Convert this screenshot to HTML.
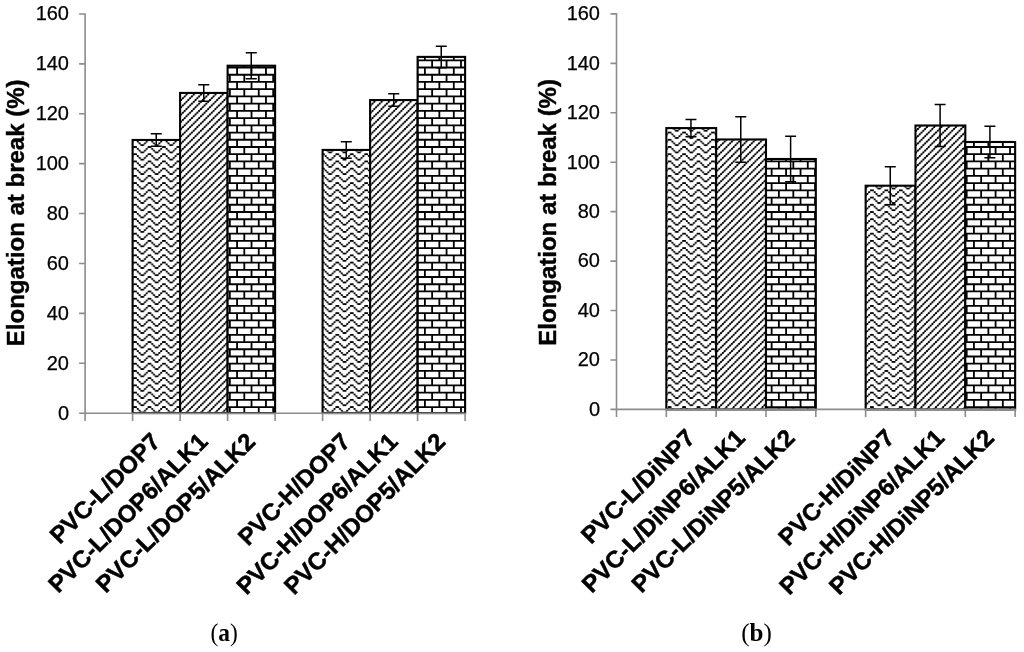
<!DOCTYPE html>
<html lang="en"><head><meta charset="utf-8"><title>Elongation at break</title>
<style>
html,body{margin:0;padding:0;background:#fff;overflow:hidden;}
svg{display:block;will-change:transform;}
.t{font-family:"Liberation Sans",Arial,sans-serif;font-size:20px;fill:#000;stroke:#000;stroke-width:0.25px;}
.yt{font-family:"Liberation Sans",Arial,sans-serif;font-size:24px;font-weight:bold;fill:#000;stroke:#000;stroke-width:0.4px;}
.xl{font-family:"Liberation Sans",Arial,sans-serif;font-size:24px;font-weight:bold;fill:#000;stroke:#000;stroke-width:0.5px;}
.cap{font-family:"Liberation Serif","DejaVu Serif",serif;font-size:25.5px;fill:#000;}
.b{font-weight:bold;}
</style></head><body>
<svg width="1024" height="652" viewBox="0 0 1024 652">
<defs>
<pattern id="zig" width="8" height="4" patternUnits="userSpaceOnUse" patternTransform="translate(5.0 1.6) scale(1.806)"><rect width="8" height="4" fill="#fff"/><path d="M0 0h1v1h-1zM7 0h1v1h-1zM1 1h1v1h-1zM6 1h1v1h-1zM2 2h1v1h-1zM5 2h1v1h-1zM3 3h2v1h-2z" fill="#000"/><path d="M0.5 0.5L3.5 3.5H4.5L7.5 0.5" stroke="#000" stroke-width="0.4" fill="none"/></pattern>
<pattern id="diag" width="4" height="4" patternUnits="userSpaceOnUse" patternTransform="translate(5.0 1.6) scale(1.806)"><rect width="4" height="4" fill="#fff"/><path d="M3 0h1v1h-1zM2 1h1v1h-1zM1 2h1v1h-1zM0 3h1v1h-1z" fill="#000"/><path d="M0.5 3.5L3.5 0.5M-0.5 0.5L0.5 -0.5M3.5 4.5L4.5 3.5" stroke="#000" stroke-width="0.6" fill="none"/></pattern>
</defs>
<rect width="1024" height="652" fill="#fff"/>
<g stroke="#000" stroke-width="2.1">
<rect x="132.6" y="139.97" width="47.5" height="273.13" fill="url(#zig)"/>
<rect x="180.1" y="92.95" width="47.5" height="320.15" fill="url(#diag)"/>
<rect x="227.6" y="65.71" width="47.5" height="347.39" fill="#fff"/>
<rect x="322.6" y="149.94" width="47.5" height="263.16" fill="url(#zig)"/>
<rect x="370.1" y="100.06" width="47.5" height="313.04" fill="url(#diag)"/>
<rect x="417.6" y="56.9" width="47.5" height="356.2" fill="#fff"/>
</g>
<path d="M228.94 65.71H230.75V66.67H228.94zM243.39 65.71H245.2V66.67H243.39zM257.84 65.71H259.65V66.67H257.84zM272.29 65.71H274.09V66.67H272.29zM227.6 66.62H275.1V68.42H227.6zM236.17 68.37H237.97V73.89H236.17zM250.62 68.37H252.42V73.89H250.62zM265.06 68.37H266.87V73.89H265.06zM227.6 73.84H275.1V75.65H227.6zM228.94 75.6H230.75V81.11H228.94zM243.39 75.6H245.2V81.11H243.39zM257.84 75.6H259.65V81.11H257.84zM272.29 75.6H274.09V81.11H272.29zM227.6 81.06H275.1V82.87H227.6zM236.17 82.82H237.97V88.34H236.17zM250.62 82.82H252.42V88.34H250.62zM265.06 82.82H266.87V88.34H265.06zM227.6 88.29H275.1V90.09H227.6zM228.94 90.04H230.75V95.56H228.94zM243.39 90.04H245.2V95.56H243.39zM257.84 90.04H259.65V95.56H257.84zM272.29 90.04H274.09V95.56H272.29zM227.6 95.51H275.1V97.32H227.6zM236.17 97.27H237.97V102.79H236.17zM250.62 97.27H252.42V102.79H250.62zM265.06 97.27H266.87V102.79H265.06zM227.6 102.74H275.1V104.54H227.6zM228.94 104.49H230.75V110.01H228.94zM243.39 104.49H245.2V110.01H243.39zM257.84 104.49H259.65V110.01H257.84zM272.29 104.49H274.09V110.01H272.29zM227.6 109.96H275.1V111.77H227.6zM236.17 111.72H237.97V117.23H236.17zM250.62 111.72H252.42V117.23H250.62zM265.06 111.72H266.87V117.23H265.06zM227.6 117.18H275.1V118.99H227.6zM228.94 118.94H230.75V124.46H228.94zM243.39 118.94H245.2V124.46H243.39zM257.84 118.94H259.65V124.46H257.84zM272.29 118.94H274.09V124.46H272.29zM227.6 124.41H275.1V126.21H227.6zM236.17 126.16H237.97V131.68H236.17zM250.62 126.16H252.42V131.68H250.62zM265.06 126.16H266.87V131.68H265.06zM227.6 131.63H275.1V133.44H227.6zM228.94 133.39H230.75V138.91H228.94zM243.39 133.39H245.2V138.91H243.39zM257.84 133.39H259.65V138.91H257.84zM272.29 133.39H274.09V138.91H272.29zM227.6 138.86H275.1V140.66H227.6zM236.17 140.61H237.97V146.13H236.17zM250.62 140.61H252.42V146.13H250.62zM265.06 140.61H266.87V146.13H265.06zM227.6 146.08H275.1V147.89H227.6zM228.94 147.84H230.75V153.35H228.94zM243.39 147.84H245.2V153.35H243.39zM257.84 147.84H259.65V153.35H257.84zM272.29 147.84H274.09V153.35H272.29zM227.6 153.3H275.1V155.11H227.6zM236.17 155.06H237.97V160.58H236.17zM250.62 155.06H252.42V160.58H250.62zM265.06 155.06H266.87V160.58H265.06zM227.6 160.53H275.1V162.33H227.6zM228.94 162.28H230.75V167.8H228.94zM243.39 162.28H245.2V167.8H243.39zM257.84 162.28H259.65V167.8H257.84zM272.29 162.28H274.09V167.8H272.29zM227.6 167.75H275.1V169.56H227.6zM236.17 169.51H237.97V175.03H236.17zM250.62 169.51H252.42V175.03H250.62zM265.06 169.51H266.87V175.03H265.06zM227.6 174.98H275.1V176.78H227.6zM228.94 176.73H230.75V182.25H228.94zM243.39 176.73H245.2V182.25H243.39zM257.84 176.73H259.65V182.25H257.84zM272.29 176.73H274.09V182.25H272.29zM227.6 182.2H275.1V184.01H227.6zM236.17 183.96H237.97V189.47H236.17zM250.62 183.96H252.42V189.47H250.62zM265.06 183.96H266.87V189.47H265.06zM227.6 189.42H275.1V191.23H227.6zM228.94 191.18H230.75V196.7H228.94zM243.39 191.18H245.2V196.7H243.39zM257.84 191.18H259.65V196.7H257.84zM272.29 191.18H274.09V196.7H272.29zM227.6 196.65H275.1V198.45H227.6zM236.17 198.4H237.97V203.92H236.17zM250.62 198.4H252.42V203.92H250.62zM265.06 198.4H266.87V203.92H265.06zM227.6 203.87H275.1V205.68H227.6zM228.94 205.63H230.75V211.15H228.94zM243.39 205.63H245.2V211.15H243.39zM257.84 205.63H259.65V211.15H257.84zM272.29 205.63H274.09V211.15H272.29zM227.6 211.1H275.1V212.9H227.6zM236.17 212.85H237.97V218.37H236.17zM250.62 212.85H252.42V218.37H250.62zM265.06 212.85H266.87V218.37H265.06zM227.6 218.32H275.1V220.13H227.6zM228.94 220.08H230.75V225.59H228.94zM243.39 220.08H245.2V225.59H243.39zM257.84 220.08H259.65V225.59H257.84zM272.29 220.08H274.09V225.59H272.29zM227.6 225.54H275.1V227.35H227.6zM236.17 227.3H237.97V232.82H236.17zM250.62 227.3H252.42V232.82H250.62zM265.06 227.3H266.87V232.82H265.06zM227.6 232.77H275.1V234.57H227.6zM228.94 234.52H230.75V240.04H228.94zM243.39 234.52H245.2V240.04H243.39zM257.84 234.52H259.65V240.04H257.84zM272.29 234.52H274.09V240.04H272.29zM227.6 239.99H275.1V241.8H227.6zM236.17 241.75H237.97V247.27H236.17zM250.62 241.75H252.42V247.27H250.62zM265.06 241.75H266.87V247.27H265.06zM227.6 247.22H275.1V249.02H227.6zM228.94 248.97H230.75V254.49H228.94zM243.39 248.97H245.2V254.49H243.39zM257.84 248.97H259.65V254.49H257.84zM272.29 248.97H274.09V254.49H272.29zM227.6 254.44H275.1V256.25H227.6zM236.17 256.2H237.97V261.71H236.17zM250.62 256.2H252.42V261.71H250.62zM265.06 256.2H266.87V261.71H265.06zM227.6 261.66H275.1V263.47H227.6zM228.94 263.42H230.75V268.94H228.94zM243.39 263.42H245.2V268.94H243.39zM257.84 263.42H259.65V268.94H257.84zM272.29 263.42H274.09V268.94H272.29zM227.6 268.89H275.1V270.69H227.6zM236.17 270.64H237.97V276.16H236.17zM250.62 270.64H252.42V276.16H250.62zM265.06 270.64H266.87V276.16H265.06zM227.6 276.11H275.1V277.92H227.6zM228.94 277.87H230.75V283.39H228.94zM243.39 277.87H245.2V283.39H243.39zM257.84 277.87H259.65V283.39H257.84zM272.29 277.87H274.09V283.39H272.29zM227.6 283.34H275.1V285.14H227.6zM236.17 285.09H237.97V290.61H236.17zM250.62 285.09H252.42V290.61H250.62zM265.06 285.09H266.87V290.61H265.06zM227.6 290.56H275.1V292.37H227.6zM228.94 292.32H230.75V297.83H228.94zM243.39 292.32H245.2V297.83H243.39zM257.84 292.32H259.65V297.83H257.84zM272.29 292.32H274.09V297.83H272.29zM227.6 297.78H275.1V299.59H227.6zM236.17 299.54H237.97V305.06H236.17zM250.62 299.54H252.42V305.06H250.62zM265.06 299.54H266.87V305.06H265.06zM227.6 305.01H275.1V306.81H227.6zM228.94 306.76H230.75V312.28H228.94zM243.39 306.76H245.2V312.28H243.39zM257.84 306.76H259.65V312.28H257.84zM272.29 306.76H274.09V312.28H272.29zM227.6 312.23H275.1V314.04H227.6zM236.17 313.99H237.97V319.51H236.17zM250.62 313.99H252.42V319.51H250.62zM265.06 313.99H266.87V319.51H265.06zM227.6 319.46H275.1V321.26H227.6zM228.94 321.21H230.75V326.73H228.94zM243.39 321.21H245.2V326.73H243.39zM257.84 321.21H259.65V326.73H257.84zM272.29 321.21H274.09V326.73H272.29zM227.6 326.68H275.1V328.49H227.6zM236.17 328.44H237.97V333.95H236.17zM250.62 328.44H252.42V333.95H250.62zM265.06 328.44H266.87V333.95H265.06zM227.6 333.9H275.1V335.71H227.6zM228.94 335.66H230.75V341.18H228.94zM243.39 335.66H245.2V341.18H243.39zM257.84 335.66H259.65V341.18H257.84zM272.29 335.66H274.09V341.18H272.29zM227.6 341.13H275.1V342.93H227.6zM236.17 342.88H237.97V348.4H236.17zM250.62 342.88H252.42V348.4H250.62zM265.06 342.88H266.87V348.4H265.06zM227.6 348.35H275.1V350.16H227.6zM228.94 350.11H230.75V355.63H228.94zM243.39 350.11H245.2V355.63H243.39zM257.84 350.11H259.65V355.63H257.84zM272.29 350.11H274.09V355.63H272.29zM227.6 355.58H275.1V357.38H227.6zM236.17 357.33H237.97V362.85H236.17zM250.62 357.33H252.42V362.85H250.62zM265.06 357.33H266.87V362.85H265.06zM227.6 362.8H275.1V364.61H227.6zM228.94 364.56H230.75V370.07H228.94zM243.39 364.56H245.2V370.07H243.39zM257.84 364.56H259.65V370.07H257.84zM272.29 364.56H274.09V370.07H272.29zM227.6 370.02H275.1V371.83H227.6zM236.17 371.78H237.97V377.3H236.17zM250.62 371.78H252.42V377.3H250.62zM265.06 371.78H266.87V377.3H265.06zM227.6 377.25H275.1V379.05H227.6zM228.94 379H230.75V384.52H228.94zM243.39 379H245.2V384.52H243.39zM257.84 379H259.65V384.52H257.84zM272.29 379H274.09V384.52H272.29zM227.6 384.47H275.1V386.28H227.6zM236.17 386.23H237.97V391.75H236.17zM250.62 386.23H252.42V391.75H250.62zM265.06 386.23H266.87V391.75H265.06zM227.6 391.7H275.1V393.5H227.6zM228.94 393.45H230.75V398.97H228.94zM243.39 393.45H245.2V398.97H243.39zM257.84 393.45H259.65V398.97H257.84zM272.29 393.45H274.09V398.97H272.29zM227.6 398.92H275.1V400.73H227.6zM236.17 400.68H237.97V406.19H236.17zM250.62 400.68H252.42V406.19H250.62zM265.06 400.68H266.87V406.19H265.06zM227.6 406.14H275.1V407.95H227.6zM228.94 407.9H230.75V413.1H228.94zM243.39 407.9H245.2V413.1H243.39zM257.84 407.9H259.65V413.1H257.84zM272.29 407.9H274.09V413.1H272.29zM423.99 56.9H425.8V59.44H423.99zM438.44 56.9H440.25V59.44H438.44zM452.89 56.9H454.69V59.44H452.89zM417.6 59.39H465.1V61.2H417.6zM417.6 61.15H418.57V66.67H417.6zM431.22 61.15H433.02V66.67H431.22zM445.66 61.15H447.47V66.67H445.66zM460.11 61.15H461.92V66.67H460.11zM417.6 66.62H465.1V68.42H417.6zM423.99 68.37H425.8V73.89H423.99zM438.44 68.37H440.25V73.89H438.44zM452.89 68.37H454.69V73.89H452.89zM417.6 73.84H465.1V75.65H417.6zM417.6 75.6H418.57V81.11H417.6zM431.22 75.6H433.02V81.11H431.22zM445.66 75.6H447.47V81.11H445.66zM460.11 75.6H461.92V81.11H460.11zM417.6 81.06H465.1V82.87H417.6zM423.99 82.82H425.8V88.34H423.99zM438.44 82.82H440.25V88.34H438.44zM452.89 82.82H454.69V88.34H452.89zM417.6 88.29H465.1V90.09H417.6zM417.6 90.04H418.57V95.56H417.6zM431.22 90.04H433.02V95.56H431.22zM445.66 90.04H447.47V95.56H445.66zM460.11 90.04H461.92V95.56H460.11zM417.6 95.51H465.1V97.32H417.6zM423.99 97.27H425.8V102.79H423.99zM438.44 97.27H440.25V102.79H438.44zM452.89 97.27H454.69V102.79H452.89zM417.6 102.74H465.1V104.54H417.6zM417.6 104.49H418.57V110.01H417.6zM431.22 104.49H433.02V110.01H431.22zM445.66 104.49H447.47V110.01H445.66zM460.11 104.49H461.92V110.01H460.11zM417.6 109.96H465.1V111.77H417.6zM423.99 111.72H425.8V117.23H423.99zM438.44 111.72H440.25V117.23H438.44zM452.89 111.72H454.69V117.23H452.89zM417.6 117.18H465.1V118.99H417.6zM417.6 118.94H418.57V124.46H417.6zM431.22 118.94H433.02V124.46H431.22zM445.66 118.94H447.47V124.46H445.66zM460.11 118.94H461.92V124.46H460.11zM417.6 124.41H465.1V126.21H417.6zM423.99 126.16H425.8V131.68H423.99zM438.44 126.16H440.25V131.68H438.44zM452.89 126.16H454.69V131.68H452.89zM417.6 131.63H465.1V133.44H417.6zM417.6 133.39H418.57V138.91H417.6zM431.22 133.39H433.02V138.91H431.22zM445.66 133.39H447.47V138.91H445.66zM460.11 133.39H461.92V138.91H460.11zM417.6 138.86H465.1V140.66H417.6zM423.99 140.61H425.8V146.13H423.99zM438.44 140.61H440.25V146.13H438.44zM452.89 140.61H454.69V146.13H452.89zM417.6 146.08H465.1V147.89H417.6zM417.6 147.84H418.57V153.35H417.6zM431.22 147.84H433.02V153.35H431.22zM445.66 147.84H447.47V153.35H445.66zM460.11 147.84H461.92V153.35H460.11zM417.6 153.3H465.1V155.11H417.6zM423.99 155.06H425.8V160.58H423.99zM438.44 155.06H440.25V160.58H438.44zM452.89 155.06H454.69V160.58H452.89zM417.6 160.53H465.1V162.33H417.6zM417.6 162.28H418.57V167.8H417.6zM431.22 162.28H433.02V167.8H431.22zM445.66 162.28H447.47V167.8H445.66zM460.11 162.28H461.92V167.8H460.11zM417.6 167.75H465.1V169.56H417.6zM423.99 169.51H425.8V175.03H423.99zM438.44 169.51H440.25V175.03H438.44zM452.89 169.51H454.69V175.03H452.89zM417.6 174.98H465.1V176.78H417.6zM417.6 176.73H418.57V182.25H417.6zM431.22 176.73H433.02V182.25H431.22zM445.66 176.73H447.47V182.25H445.66zM460.11 176.73H461.92V182.25H460.11zM417.6 182.2H465.1V184.01H417.6zM423.99 183.96H425.8V189.47H423.99zM438.44 183.96H440.25V189.47H438.44zM452.89 183.96H454.69V189.47H452.89zM417.6 189.42H465.1V191.23H417.6zM417.6 191.18H418.57V196.7H417.6zM431.22 191.18H433.02V196.7H431.22zM445.66 191.18H447.47V196.7H445.66zM460.11 191.18H461.92V196.7H460.11zM417.6 196.65H465.1V198.45H417.6zM423.99 198.4H425.8V203.92H423.99zM438.44 198.4H440.25V203.92H438.44zM452.89 198.4H454.69V203.92H452.89zM417.6 203.87H465.1V205.68H417.6zM417.6 205.63H418.57V211.15H417.6zM431.22 205.63H433.02V211.15H431.22zM445.66 205.63H447.47V211.15H445.66zM460.11 205.63H461.92V211.15H460.11zM417.6 211.1H465.1V212.9H417.6zM423.99 212.85H425.8V218.37H423.99zM438.44 212.85H440.25V218.37H438.44zM452.89 212.85H454.69V218.37H452.89zM417.6 218.32H465.1V220.13H417.6zM417.6 220.08H418.57V225.59H417.6zM431.22 220.08H433.02V225.59H431.22zM445.66 220.08H447.47V225.59H445.66zM460.11 220.08H461.92V225.59H460.11zM417.6 225.54H465.1V227.35H417.6zM423.99 227.3H425.8V232.82H423.99zM438.44 227.3H440.25V232.82H438.44zM452.89 227.3H454.69V232.82H452.89zM417.6 232.77H465.1V234.57H417.6zM417.6 234.52H418.57V240.04H417.6zM431.22 234.52H433.02V240.04H431.22zM445.66 234.52H447.47V240.04H445.66zM460.11 234.52H461.92V240.04H460.11zM417.6 239.99H465.1V241.8H417.6zM423.99 241.75H425.8V247.27H423.99zM438.44 241.75H440.25V247.27H438.44zM452.89 241.75H454.69V247.27H452.89zM417.6 247.22H465.1V249.02H417.6zM417.6 248.97H418.57V254.49H417.6zM431.22 248.97H433.02V254.49H431.22zM445.66 248.97H447.47V254.49H445.66zM460.11 248.97H461.92V254.49H460.11zM417.6 254.44H465.1V256.25H417.6zM423.99 256.2H425.8V261.71H423.99zM438.44 256.2H440.25V261.71H438.44zM452.89 256.2H454.69V261.71H452.89zM417.6 261.66H465.1V263.47H417.6zM417.6 263.42H418.57V268.94H417.6zM431.22 263.42H433.02V268.94H431.22zM445.66 263.42H447.47V268.94H445.66zM460.11 263.42H461.92V268.94H460.11zM417.6 268.89H465.1V270.69H417.6zM423.99 270.64H425.8V276.16H423.99zM438.44 270.64H440.25V276.16H438.44zM452.89 270.64H454.69V276.16H452.89zM417.6 276.11H465.1V277.92H417.6zM417.6 277.87H418.57V283.39H417.6zM431.22 277.87H433.02V283.39H431.22zM445.66 277.87H447.47V283.39H445.66zM460.11 277.87H461.92V283.39H460.11zM417.6 283.34H465.1V285.14H417.6zM423.99 285.09H425.8V290.61H423.99zM438.44 285.09H440.25V290.61H438.44zM452.89 285.09H454.69V290.61H452.89zM417.6 290.56H465.1V292.37H417.6zM417.6 292.32H418.57V297.83H417.6zM431.22 292.32H433.02V297.83H431.22zM445.66 292.32H447.47V297.83H445.66zM460.11 292.32H461.92V297.83H460.11zM417.6 297.78H465.1V299.59H417.6zM423.99 299.54H425.8V305.06H423.99zM438.44 299.54H440.25V305.06H438.44zM452.89 299.54H454.69V305.06H452.89zM417.6 305.01H465.1V306.81H417.6zM417.6 306.76H418.57V312.28H417.6zM431.22 306.76H433.02V312.28H431.22zM445.66 306.76H447.47V312.28H445.66zM460.11 306.76H461.92V312.28H460.11zM417.6 312.23H465.1V314.04H417.6zM423.99 313.99H425.8V319.51H423.99zM438.44 313.99H440.25V319.51H438.44zM452.89 313.99H454.69V319.51H452.89zM417.6 319.46H465.1V321.26H417.6zM417.6 321.21H418.57V326.73H417.6zM431.22 321.21H433.02V326.73H431.22zM445.66 321.21H447.47V326.73H445.66zM460.11 321.21H461.92V326.73H460.11zM417.6 326.68H465.1V328.49H417.6zM423.99 328.44H425.8V333.95H423.99zM438.44 328.44H440.25V333.95H438.44zM452.89 328.44H454.69V333.95H452.89zM417.6 333.9H465.1V335.71H417.6zM417.6 335.66H418.57V341.18H417.6zM431.22 335.66H433.02V341.18H431.22zM445.66 335.66H447.47V341.18H445.66zM460.11 335.66H461.92V341.18H460.11zM417.6 341.13H465.1V342.93H417.6zM423.99 342.88H425.8V348.4H423.99zM438.44 342.88H440.25V348.4H438.44zM452.89 342.88H454.69V348.4H452.89zM417.6 348.35H465.1V350.16H417.6zM417.6 350.11H418.57V355.63H417.6zM431.22 350.11H433.02V355.63H431.22zM445.66 350.11H447.47V355.63H445.66zM460.11 350.11H461.92V355.63H460.11zM417.6 355.58H465.1V357.38H417.6zM423.99 357.33H425.8V362.85H423.99zM438.44 357.33H440.25V362.85H438.44zM452.89 357.33H454.69V362.85H452.89zM417.6 362.8H465.1V364.61H417.6zM417.6 364.56H418.57V370.07H417.6zM431.22 364.56H433.02V370.07H431.22zM445.66 364.56H447.47V370.07H445.66zM460.11 364.56H461.92V370.07H460.11zM417.6 370.02H465.1V371.83H417.6zM423.99 371.78H425.8V377.3H423.99zM438.44 371.78H440.25V377.3H438.44zM452.89 371.78H454.69V377.3H452.89zM417.6 377.25H465.1V379.05H417.6zM417.6 379H418.57V384.52H417.6zM431.22 379H433.02V384.52H431.22zM445.66 379H447.47V384.52H445.66zM460.11 379H461.92V384.52H460.11zM417.6 384.47H465.1V386.28H417.6zM423.99 386.23H425.8V391.75H423.99zM438.44 386.23H440.25V391.75H438.44zM452.89 386.23H454.69V391.75H452.89zM417.6 391.7H465.1V393.5H417.6zM417.6 393.45H418.57V398.97H417.6zM431.22 393.45H433.02V398.97H431.22zM445.66 393.45H447.47V398.97H445.66zM460.11 393.45H461.92V398.97H460.11zM417.6 398.92H465.1V400.73H417.6zM423.99 400.68H425.8V406.19H423.99zM438.44 400.68H440.25V406.19H438.44zM452.89 400.68H454.69V406.19H452.89zM417.6 406.14H465.1V407.95H417.6zM417.6 407.9H418.57V413.1H417.6zM431.22 407.9H433.02V413.1H431.22zM445.66 407.9H447.47V413.1H445.66zM460.11 407.9H461.92V413.1H460.11z" fill="#000"/>
<path d="M156.25 133.73V146.2M150.75 133.73h11M150.75 146.2h11M203.75 84.72V101.18M198.25 84.72h11M198.25 101.18h11M251.25 52.74V78.68M245.75 52.74h11M245.75 78.68h11M346.25 141.71V158.17M340.75 141.71h11M340.75 158.17h11M393.75 93.82V106.29M388.25 93.82h11M388.25 106.29h11M441.25 46.18V67.63M435.75 46.18h11M435.75 67.63h11" stroke="#000" stroke-width="1.5" fill="none"/>
<path d="M85.1 13.2V420.9M79.1 413.3H465.9M132.6 413.3v7.6M180.1 413.3v7.6M227.6 413.3v7.6M275.1 413.3v7.6M322.6 413.3v7.6M370.1 413.3v7.6M417.6 413.3v7.6M465.1 413.3v7.6M79.1 363.21h6M79.1 313.33h6M79.1 263.44h6M79.1 213.55h6M79.1 163.66h6M79.1 113.77h6M79.1 63.89h6M79.1 14h6" stroke="#8c8c8c" stroke-width="1.6" fill="none"/>
<g class="t" text-anchor="end">
<text x="69" y="419.5">0</text>
<text x="69" y="369.61">20</text>
<text x="69" y="319.73">40</text>
<text x="69" y="269.84">60</text>
<text x="69" y="219.95">80</text>
<text x="69" y="170.06">100</text>
<text x="69" y="120.17">120</text>
<text x="69" y="70.29">140</text>
<text x="69" y="20.4">160</text>
</g>
<text transform="translate(24 212.8) rotate(-90)" text-anchor="middle" class="yt">Elongation at break (%)</text>
<g class="xl" text-anchor="end">
<text transform="translate(161.65 443.1) rotate(-45)">PVC-L/DOP7</text>
<text transform="translate(209.15 443.1) rotate(-45)">PVC-L/DOP6/ALK1</text>
<text transform="translate(256.65 443.1) rotate(-45)">PVC-L/DOP5/ALK2</text>
<text transform="translate(351.65 443.1) rotate(-45)">PVC-H/DOP7</text>
<text transform="translate(399.15 443.1) rotate(-45)">PVC-H/DOP6/ALK1</text>
<text transform="translate(446.65 443.1) rotate(-45)">PVC-H/DOP5/ALK2</text>
</g>
<text transform="translate(224.2 641) scale(0.92 1)" text-anchor="middle" class="cap">(<tspan class="b">a</tspan>)</text>
<g stroke="#000" stroke-width="2.1">
<rect x="666.33" y="128.1" width="49.83" height="281.3" fill="url(#zig)"/>
<rect x="716.16" y="139.47" width="49.83" height="269.93" fill="url(#diag)"/>
<rect x="765.99" y="159" width="49.83" height="250.4" fill="#fff"/>
<rect x="865.65" y="185.7" width="49.83" height="223.7" fill="url(#zig)"/>
<rect x="915.48" y="125.51" width="49.83" height="283.89" fill="url(#diag)"/>
<rect x="965.31" y="141.99" width="49.83" height="267.41" fill="#fff"/>
</g>
<path d="M770.74 159H772.55V160.58H770.74zM785.19 159H787V160.58H785.19zM799.64 159H801.45V160.58H799.64zM814.09 159H815.82V160.58H814.09zM765.99 160.53H815.82V162.33H765.99zM777.97 162.28H779.77V167.8H777.97zM792.42 162.28H794.22V167.8H792.42zM806.86 162.28H808.67V167.8H806.86zM765.99 167.75H815.82V169.56H765.99zM770.74 169.51H772.55V175.03H770.74zM785.19 169.51H787V175.03H785.19zM799.64 169.51H801.45V175.03H799.64zM814.09 169.51H815.82V175.03H814.09zM765.99 174.98H815.82V176.78H765.99zM777.97 176.73H779.77V182.25H777.97zM792.42 176.73H794.22V182.25H792.42zM806.86 176.73H808.67V182.25H806.86zM765.99 182.2H815.82V184.01H765.99zM770.74 183.96H772.55V189.47H770.74zM785.19 183.96H787V189.47H785.19zM799.64 183.96H801.45V189.47H799.64zM814.09 183.96H815.82V189.47H814.09zM765.99 189.42H815.82V191.23H765.99zM777.97 191.18H779.77V196.7H777.97zM792.42 191.18H794.22V196.7H792.42zM806.86 191.18H808.67V196.7H806.86zM765.99 196.65H815.82V198.45H765.99zM770.74 198.4H772.55V203.92H770.74zM785.19 198.4H787V203.92H785.19zM799.64 198.4H801.45V203.92H799.64zM814.09 198.4H815.82V203.92H814.09zM765.99 203.87H815.82V205.68H765.99zM777.97 205.63H779.77V211.15H777.97zM792.42 205.63H794.22V211.15H792.42zM806.86 205.63H808.67V211.15H806.86zM765.99 211.1H815.82V212.9H765.99zM770.74 212.85H772.55V218.37H770.74zM785.19 212.85H787V218.37H785.19zM799.64 212.85H801.45V218.37H799.64zM814.09 212.85H815.82V218.37H814.09zM765.99 218.32H815.82V220.13H765.99zM777.97 220.08H779.77V225.59H777.97zM792.42 220.08H794.22V225.59H792.42zM806.86 220.08H808.67V225.59H806.86zM765.99 225.54H815.82V227.35H765.99zM770.74 227.3H772.55V232.82H770.74zM785.19 227.3H787V232.82H785.19zM799.64 227.3H801.45V232.82H799.64zM814.09 227.3H815.82V232.82H814.09zM765.99 232.77H815.82V234.57H765.99zM777.97 234.52H779.77V240.04H777.97zM792.42 234.52H794.22V240.04H792.42zM806.86 234.52H808.67V240.04H806.86zM765.99 239.99H815.82V241.8H765.99zM770.74 241.75H772.55V247.27H770.74zM785.19 241.75H787V247.27H785.19zM799.64 241.75H801.45V247.27H799.64zM814.09 241.75H815.82V247.27H814.09zM765.99 247.22H815.82V249.02H765.99zM777.97 248.97H779.77V254.49H777.97zM792.42 248.97H794.22V254.49H792.42zM806.86 248.97H808.67V254.49H806.86zM765.99 254.44H815.82V256.25H765.99zM770.74 256.2H772.55V261.71H770.74zM785.19 256.2H787V261.71H785.19zM799.64 256.2H801.45V261.71H799.64zM814.09 256.2H815.82V261.71H814.09zM765.99 261.66H815.82V263.47H765.99zM777.97 263.42H779.77V268.94H777.97zM792.42 263.42H794.22V268.94H792.42zM806.86 263.42H808.67V268.94H806.86zM765.99 268.89H815.82V270.69H765.99zM770.74 270.64H772.55V276.16H770.74zM785.19 270.64H787V276.16H785.19zM799.64 270.64H801.45V276.16H799.64zM814.09 270.64H815.82V276.16H814.09zM765.99 276.11H815.82V277.92H765.99zM777.97 277.87H779.77V283.39H777.97zM792.42 277.87H794.22V283.39H792.42zM806.86 277.87H808.67V283.39H806.86zM765.99 283.34H815.82V285.14H765.99zM770.74 285.09H772.55V290.61H770.74zM785.19 285.09H787V290.61H785.19zM799.64 285.09H801.45V290.61H799.64zM814.09 285.09H815.82V290.61H814.09zM765.99 290.56H815.82V292.37H765.99zM777.97 292.32H779.77V297.83H777.97zM792.42 292.32H794.22V297.83H792.42zM806.86 292.32H808.67V297.83H806.86zM765.99 297.78H815.82V299.59H765.99zM770.74 299.54H772.55V305.06H770.74zM785.19 299.54H787V305.06H785.19zM799.64 299.54H801.45V305.06H799.64zM814.09 299.54H815.82V305.06H814.09zM765.99 305.01H815.82V306.81H765.99zM777.97 306.76H779.77V312.28H777.97zM792.42 306.76H794.22V312.28H792.42zM806.86 306.76H808.67V312.28H806.86zM765.99 312.23H815.82V314.04H765.99zM770.74 313.99H772.55V319.51H770.74zM785.19 313.99H787V319.51H785.19zM799.64 313.99H801.45V319.51H799.64zM814.09 313.99H815.82V319.51H814.09zM765.99 319.46H815.82V321.26H765.99zM777.97 321.21H779.77V326.73H777.97zM792.42 321.21H794.22V326.73H792.42zM806.86 321.21H808.67V326.73H806.86zM765.99 326.68H815.82V328.49H765.99zM770.74 328.44H772.55V333.95H770.74zM785.19 328.44H787V333.95H785.19zM799.64 328.44H801.45V333.95H799.64zM814.09 328.44H815.82V333.95H814.09zM765.99 333.9H815.82V335.71H765.99zM777.97 335.66H779.77V341.18H777.97zM792.42 335.66H794.22V341.18H792.42zM806.86 335.66H808.67V341.18H806.86zM765.99 341.13H815.82V342.93H765.99zM770.74 342.88H772.55V348.4H770.74zM785.19 342.88H787V348.4H785.19zM799.64 342.88H801.45V348.4H799.64zM814.09 342.88H815.82V348.4H814.09zM765.99 348.35H815.82V350.16H765.99zM777.97 350.11H779.77V355.63H777.97zM792.42 350.11H794.22V355.63H792.42zM806.86 350.11H808.67V355.63H806.86zM765.99 355.58H815.82V357.38H765.99zM770.74 357.33H772.55V362.85H770.74zM785.19 357.33H787V362.85H785.19zM799.64 357.33H801.45V362.85H799.64zM814.09 357.33H815.82V362.85H814.09zM765.99 362.8H815.82V364.61H765.99zM777.97 364.56H779.77V370.07H777.97zM792.42 364.56H794.22V370.07H792.42zM806.86 364.56H808.67V370.07H806.86zM765.99 370.02H815.82V371.83H765.99zM770.74 371.78H772.55V377.3H770.74zM785.19 371.78H787V377.3H785.19zM799.64 371.78H801.45V377.3H799.64zM814.09 371.78H815.82V377.3H814.09zM765.99 377.25H815.82V379.05H765.99zM777.97 379H779.77V384.52H777.97zM792.42 379H794.22V384.52H792.42zM806.86 379H808.67V384.52H806.86zM765.99 384.47H815.82V386.28H765.99zM770.74 386.23H772.55V391.75H770.74zM785.19 386.23H787V391.75H785.19zM799.64 386.23H801.45V391.75H799.64zM814.09 386.23H815.82V391.75H814.09zM765.99 391.7H815.82V393.5H765.99zM777.97 393.45H779.77V398.97H777.97zM792.42 393.45H794.22V398.97H792.42zM806.86 393.45H808.67V398.97H806.86zM765.99 398.92H815.82V400.73H765.99zM770.74 400.68H772.55V406.19H770.74zM785.19 400.68H787V406.19H785.19zM799.64 400.68H801.45V406.19H799.64zM814.09 400.68H815.82V406.19H814.09zM765.99 406.14H815.82V407.95H765.99zM777.97 407.9H779.77V409.4H777.97zM792.42 407.9H794.22V409.4H792.42zM806.86 407.9H808.67V409.4H806.86zM973.02 141.99H974.82V146.13H973.02zM987.46 141.99H989.27V146.13H987.46zM1001.91 141.99H1003.72V146.13H1001.91zM965.31 146.08H1015.14V147.89H965.31zM965.79 147.84H967.6V153.35H965.79zM980.24 147.84H982.05V153.35H980.24zM994.69 147.84H996.49V153.35H994.69zM1009.14 147.84H1010.94V153.35H1009.14zM965.31 153.3H1015.14V155.11H965.31zM973.02 155.06H974.82V160.58H973.02zM987.46 155.06H989.27V160.58H987.46zM1001.91 155.06H1003.72V160.58H1001.91zM965.31 160.53H1015.14V162.33H965.31zM965.79 162.28H967.6V167.8H965.79zM980.24 162.28H982.05V167.8H980.24zM994.69 162.28H996.49V167.8H994.69zM1009.14 162.28H1010.94V167.8H1009.14zM965.31 167.75H1015.14V169.56H965.31zM973.02 169.51H974.82V175.03H973.02zM987.46 169.51H989.27V175.03H987.46zM1001.91 169.51H1003.72V175.03H1001.91zM965.31 174.98H1015.14V176.78H965.31zM965.79 176.73H967.6V182.25H965.79zM980.24 176.73H982.05V182.25H980.24zM994.69 176.73H996.49V182.25H994.69zM1009.14 176.73H1010.94V182.25H1009.14zM965.31 182.2H1015.14V184.01H965.31zM973.02 183.96H974.82V189.47H973.02zM987.46 183.96H989.27V189.47H987.46zM1001.91 183.96H1003.72V189.47H1001.91zM965.31 189.42H1015.14V191.23H965.31zM965.79 191.18H967.6V196.7H965.79zM980.24 191.18H982.05V196.7H980.24zM994.69 191.18H996.49V196.7H994.69zM1009.14 191.18H1010.94V196.7H1009.14zM965.31 196.65H1015.14V198.45H965.31zM973.02 198.4H974.82V203.92H973.02zM987.46 198.4H989.27V203.92H987.46zM1001.91 198.4H1003.72V203.92H1001.91zM965.31 203.87H1015.14V205.68H965.31zM965.79 205.63H967.6V211.15H965.79zM980.24 205.63H982.05V211.15H980.24zM994.69 205.63H996.49V211.15H994.69zM1009.14 205.63H1010.94V211.15H1009.14zM965.31 211.1H1015.14V212.9H965.31zM973.02 212.85H974.82V218.37H973.02zM987.46 212.85H989.27V218.37H987.46zM1001.91 212.85H1003.72V218.37H1001.91zM965.31 218.32H1015.14V220.13H965.31zM965.79 220.08H967.6V225.59H965.79zM980.24 220.08H982.05V225.59H980.24zM994.69 220.08H996.49V225.59H994.69zM1009.14 220.08H1010.94V225.59H1009.14zM965.31 225.54H1015.14V227.35H965.31zM973.02 227.3H974.82V232.82H973.02zM987.46 227.3H989.27V232.82H987.46zM1001.91 227.3H1003.72V232.82H1001.91zM965.31 232.77H1015.14V234.57H965.31zM965.79 234.52H967.6V240.04H965.79zM980.24 234.52H982.05V240.04H980.24zM994.69 234.52H996.49V240.04H994.69zM1009.14 234.52H1010.94V240.04H1009.14zM965.31 239.99H1015.14V241.8H965.31zM973.02 241.75H974.82V247.27H973.02zM987.46 241.75H989.27V247.27H987.46zM1001.91 241.75H1003.72V247.27H1001.91zM965.31 247.22H1015.14V249.02H965.31zM965.79 248.97H967.6V254.49H965.79zM980.24 248.97H982.05V254.49H980.24zM994.69 248.97H996.49V254.49H994.69zM1009.14 248.97H1010.94V254.49H1009.14zM965.31 254.44H1015.14V256.25H965.31zM973.02 256.2H974.82V261.71H973.02zM987.46 256.2H989.27V261.71H987.46zM1001.91 256.2H1003.72V261.71H1001.91zM965.31 261.66H1015.14V263.47H965.31zM965.79 263.42H967.6V268.94H965.79zM980.24 263.42H982.05V268.94H980.24zM994.69 263.42H996.49V268.94H994.69zM1009.14 263.42H1010.94V268.94H1009.14zM965.31 268.89H1015.14V270.69H965.31zM973.02 270.64H974.82V276.16H973.02zM987.46 270.64H989.27V276.16H987.46zM1001.91 270.64H1003.72V276.16H1001.91zM965.31 276.11H1015.14V277.92H965.31zM965.79 277.87H967.6V283.39H965.79zM980.24 277.87H982.05V283.39H980.24zM994.69 277.87H996.49V283.39H994.69zM1009.14 277.87H1010.94V283.39H1009.14zM965.31 283.34H1015.14V285.14H965.31zM973.02 285.09H974.82V290.61H973.02zM987.46 285.09H989.27V290.61H987.46zM1001.91 285.09H1003.72V290.61H1001.91zM965.31 290.56H1015.14V292.37H965.31zM965.79 292.32H967.6V297.83H965.79zM980.24 292.32H982.05V297.83H980.24zM994.69 292.32H996.49V297.83H994.69zM1009.14 292.32H1010.94V297.83H1009.14zM965.31 297.78H1015.14V299.59H965.31zM973.02 299.54H974.82V305.06H973.02zM987.46 299.54H989.27V305.06H987.46zM1001.91 299.54H1003.72V305.06H1001.91zM965.31 305.01H1015.14V306.81H965.31zM965.79 306.76H967.6V312.28H965.79zM980.24 306.76H982.05V312.28H980.24zM994.69 306.76H996.49V312.28H994.69zM1009.14 306.76H1010.94V312.28H1009.14zM965.31 312.23H1015.14V314.04H965.31zM973.02 313.99H974.82V319.51H973.02zM987.46 313.99H989.27V319.51H987.46zM1001.91 313.99H1003.72V319.51H1001.91zM965.31 319.46H1015.14V321.26H965.31zM965.79 321.21H967.6V326.73H965.79zM980.24 321.21H982.05V326.73H980.24zM994.69 321.21H996.49V326.73H994.69zM1009.14 321.21H1010.94V326.73H1009.14zM965.31 326.68H1015.14V328.49H965.31zM973.02 328.44H974.82V333.95H973.02zM987.46 328.44H989.27V333.95H987.46zM1001.91 328.44H1003.72V333.95H1001.91zM965.31 333.9H1015.14V335.71H965.31zM965.79 335.66H967.6V341.18H965.79zM980.24 335.66H982.05V341.18H980.24zM994.69 335.66H996.49V341.18H994.69zM1009.14 335.66H1010.94V341.18H1009.14zM965.31 341.13H1015.14V342.93H965.31zM973.02 342.88H974.82V348.4H973.02zM987.46 342.88H989.27V348.4H987.46zM1001.91 342.88H1003.72V348.4H1001.91zM965.31 348.35H1015.14V350.16H965.31zM965.79 350.11H967.6V355.63H965.79zM980.24 350.11H982.05V355.63H980.24zM994.69 350.11H996.49V355.63H994.69zM1009.14 350.11H1010.94V355.63H1009.14zM965.31 355.58H1015.14V357.38H965.31zM973.02 357.33H974.82V362.85H973.02zM987.46 357.33H989.27V362.85H987.46zM1001.91 357.33H1003.72V362.85H1001.91zM965.31 362.8H1015.14V364.61H965.31zM965.79 364.56H967.6V370.07H965.79zM980.24 364.56H982.05V370.07H980.24zM994.69 364.56H996.49V370.07H994.69zM1009.14 364.56H1010.94V370.07H1009.14zM965.31 370.02H1015.14V371.83H965.31zM973.02 371.78H974.82V377.3H973.02zM987.46 371.78H989.27V377.3H987.46zM1001.91 371.78H1003.72V377.3H1001.91zM965.31 377.25H1015.14V379.05H965.31zM965.79 379H967.6V384.52H965.79zM980.24 379H982.05V384.52H980.24zM994.69 379H996.49V384.52H994.69zM1009.14 379H1010.94V384.52H1009.14zM965.31 384.47H1015.14V386.28H965.31zM973.02 386.23H974.82V391.75H973.02zM987.46 386.23H989.27V391.75H987.46zM1001.91 386.23H1003.72V391.75H1001.91zM965.31 391.7H1015.14V393.5H965.31zM965.79 393.45H967.6V398.97H965.79zM980.24 393.45H982.05V398.97H980.24zM994.69 393.45H996.49V398.97H994.69zM1009.14 393.45H1010.94V398.97H1009.14zM965.31 398.92H1015.14V400.73H965.31zM973.02 400.68H974.82V406.19H973.02zM987.46 400.68H989.27V406.19H987.46zM1001.91 400.68H1003.72V406.19H1001.91zM965.31 406.14H1015.14V407.95H965.31zM965.79 407.9H967.6V409.4H965.79zM980.24 407.9H982.05V409.4H980.24zM994.69 407.9H996.49V409.4H994.69zM1009.14 407.9H1010.94V409.4H1009.14z" fill="#000"/>
<path d="M690.95 119.45V136.75M685.45 119.45h11M685.45 136.75h11M740.77 116.73V162.21M735.27 116.73h11M735.27 162.21h11M790.61 136.26V181.74M785.11 136.26h11M785.11 181.74h11M890.26 166.66V204.73M884.76 166.66h11M884.76 204.73h11M940.1 104.62V146.39M934.6 104.62h11M934.6 146.39h11M989.92 126.17V157.81M984.42 126.17h11M984.42 157.81h11" stroke="#000" stroke-width="1.5" fill="none"/>
<path d="M616.5 13.1V417M610.5 409.4H1015.94M666.33 409.4v7.6M716.16 409.4v7.6M765.99 409.4v7.6M815.82 409.4v7.6M865.65 409.4v7.6M915.48 409.4v7.6M965.31 409.4v7.6M1015.14 409.4v7.6M610.5 359.96h6M610.5 310.52h6M610.5 261.09h6M610.5 211.65h6M610.5 162.21h6M610.5 112.77h6M610.5 63.34h6M610.5 13.9h6" stroke="#8c8c8c" stroke-width="1.6" fill="none"/>
<g class="t" text-anchor="end">
<text x="600" y="415.8">0</text>
<text x="600" y="366.36">20</text>
<text x="600" y="316.92">40</text>
<text x="600" y="267.49">60</text>
<text x="600" y="218.05">80</text>
<text x="600" y="168.61">100</text>
<text x="600" y="119.17">120</text>
<text x="600" y="69.74">140</text>
<text x="600" y="20.3">160</text>
</g>
<text transform="translate(556.2 212.4) rotate(-90)" text-anchor="middle" class="yt">Elongation at break (%)</text>
<g class="xl" text-anchor="end">
<text transform="translate(696.54 439.4) rotate(-45)">PVC-L/DiNP7</text>
<text transform="translate(746.37 439.4) rotate(-45)">PVC-L/DiNP6/ALK1</text>
<text transform="translate(796.2 439.4) rotate(-45)">PVC-L/DiNP5/ALK2</text>
<text transform="translate(895.86 439.4) rotate(-45)">PVC-H/DiNP7</text>
<text transform="translate(945.69 439.4) rotate(-45)">PVC-H/DiNP6/ALK1</text>
<text transform="translate(995.52 439.4) rotate(-45)">PVC-H/DiNP5/ALK2</text>
</g>
<text transform="translate(756.6 641) scale(0.985 1)" text-anchor="middle" class="cap">(<tspan class="b">b</tspan>)</text>
</svg>
</body></html>
